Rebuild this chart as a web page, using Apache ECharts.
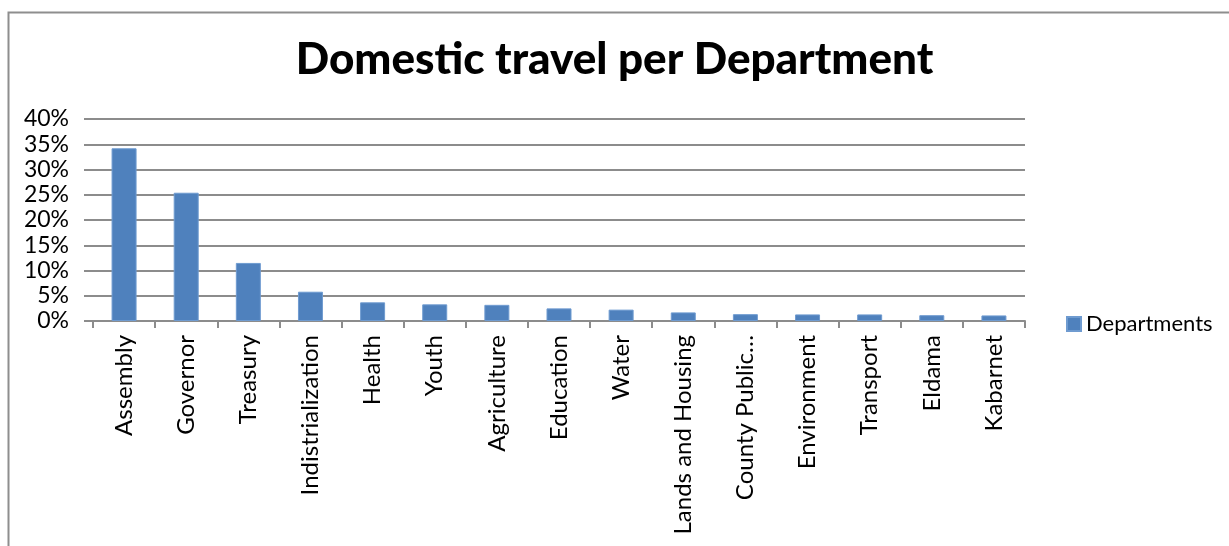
<!DOCTYPE html>
<html>
<head>
<meta charset="utf-8">
<script src="https://cdn.jsdelivr.net/npm/echarts@6/dist/echarts.min.js"></script>
<style>
html,body{margin:0;padding:0;background:#fff;}
#c{width:1229px;height:546px;}
</style>
</head>
<body>
<div id="c"></div>
<script>
const titleText = 'Domestic travel per Department';
const seriesName = 'Departments';
const categories = ['Assembly','Governor','Treasury','Indistrialization','Health','Youth','Agriculture','Education','Water','Lands and Housing','County Public\u2026','Environment','Transport','Eldama','Kabarnet'];
const values = [34.2, 25.4, 11.5, 5.8, 3.7, 3.3, 3.2, 2.5, 2.25, 1.7, 1.35, 1.3, 1.3, 1.15, 1.1];
const yMin = 0, yMax = 40, yStep = 5;

const chart = echarts.init(document.getElementById('c'));
const font = 'Lato, Carlito, "Liberation Sans", sans-serif';
chart.setOption({
  animation: false,
  backgroundColor: '#fff',
  graphic: [{
    type: 'rect', left: 6, top: 10,
    shape: { width: 1260, height: 580 },
    style: { fill: 'none', stroke: '#8e8e8e', lineWidth: 2 }
  }],
  title: {
    text: titleText, left: 'center', top: 33,
    textStyle: { fontFamily: font, fontWeight: 900, fontSize: 44, color: '#000' }
  },
  legend: {
    data: [seriesName], left: 1061, top: 308, icon: 'rect', itemWidth: 14, itemHeight: 14, itemGap: 6,
    textStyle: { fontFamily: font, fontSize: 22, color: '#000', padding: [0, 0, 0, 0] }
  },
  grid: { left: 93, right: 204, top: 119, bottom: 225, containLabel: false },
  xAxis: {
    type: 'category', data: categories,
    axisLine: { lineStyle: { color: '#8c8c8c', width: 2 } },
    axisTick: { show: true, length: 7, lineStyle: { color: '#8c8c8c', width: 2 } },
    axisLabel: { rotate: 90, interval: 0, margin: 14, color: '#000', fontFamily: font, fontSize: 24 }
  },
  yAxis: {
    type: 'value', min: yMin, max: yMax, interval: yStep,
    axisLine: { show: false },
    axisTick: { show: true, length: 9, lineStyle: { color: '#8c8c8c', width: 2 } },
    axisLabel: { formatter: '{value}%', margin: 24, color: '#000', fontFamily: font, fontSize: 23 },
    splitLine: { lineStyle: { color: '#8c8c8c', width: 2 } }
  },
  series: [{
    name: seriesName, type: 'bar', data: values, barWidth: 25,
    itemStyle: { color: '#4f81bd', borderColor: '#6f9bd0', borderWidth: 1 }
  }]
});
</script>
</body>
</html>
